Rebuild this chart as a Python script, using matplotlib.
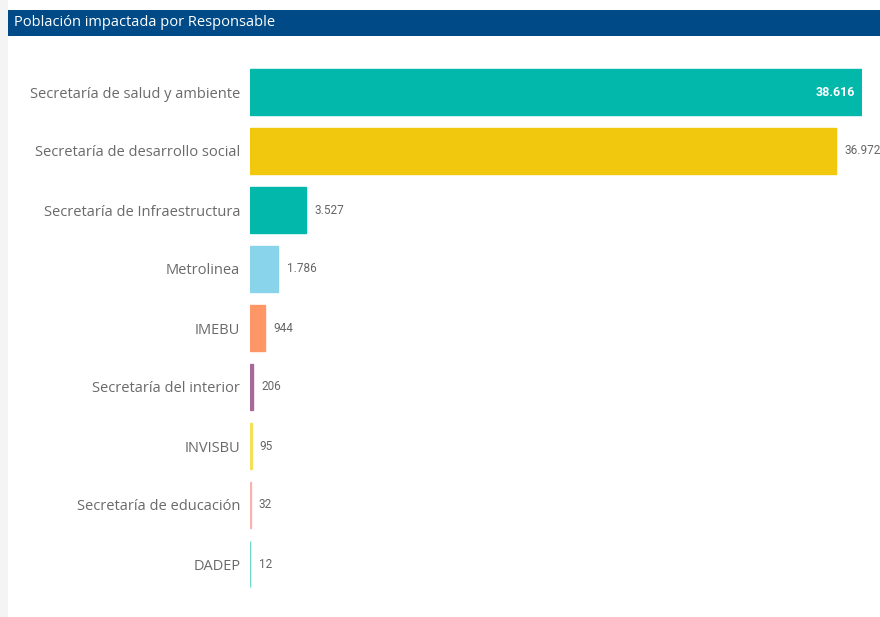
import matplotlib.pyplot as plt
from matplotlib.patches import Rectangle

categories = [
    "Secretaría de salud y ambiente",
    "Secretaría de desarrollo social",
    "Secretaría de Infraestructura",
    "Metrolinea",
    "IMEBU",
    "Secretaría del interior",
    "INVISBU",
    "Secretaría de educación",
    "DADEP",
]
values = [38616, 36972, 3527, 1786, 944, 206, 95, 32, 12]
colors = ["#01B8AA", "#F2C80F", "#01B8AA", "#8AD4EB", "#FE9666",
          "#A66999", "#F5E05A", "#F7B3B0", "#6FD8C8"]

W, H = 880, 617
fig = plt.figure(figsize=(W / 100, H / 100), dpi=100)
fig.patch.set_facecolor("white")

# faint panel edge on the left
fig.add_artist(Rectangle((0, 0), 8 / W, 1, transform=fig.transFigure,
                         facecolor="#f4f4f4", edgecolor="none"))
# title bar
fig.add_artist(Rectangle((8 / W, 1 - 36 / H), 1 - 8 / W, 26 / H,
                         transform=fig.transFigure, facecolor="#004B87",
                         edgecolor="none"))
fig.text(14 / W, 1 - 22 / H, "Población impactada por Responsable",
         color="white", fontsize=10.5, family="Open Sans", va="center")

ax = fig.add_axes([250 / W, 1 - 593.5 / H, (862 - 250) / W, 531 / H])
y = list(range(len(categories)))
ax.barh(y, values, height=0.78, color=colors, edgecolor=colors, linewidth=1.0)
ax.set_xlim(0, max(values))
ax.set_ylim(len(categories) - 0.5, -0.5)

ax.set_yticks(y)
ax.set_yticklabels(categories, fontsize=10.5, family="Open Sans", color="#6a6a6a")
ax.tick_params(axis="y", length=0, pad=7)
ax.set_xticks([])
for s in ax.spines.values():
    s.set_visible(False)

for i, v in enumerate(values):
    txt = f"{v:,}".replace(",", ".")
    if i == 0:
        ax.annotate(txt, (v, i), xytext=(-5, 0), textcoords="offset points",
                    ha="right", va="center", color="white", fontsize=9,
                    fontweight="bold", family="Roboto")
    else:
        ax.annotate(txt, (v, i), xytext=(6, 0), textcoords="offset points",
                    ha="left", va="center", color="#666666", fontsize=8.5,
                    family="Roboto", annotation_clip=False)

fig.savefig("out.png", dpi=100)
